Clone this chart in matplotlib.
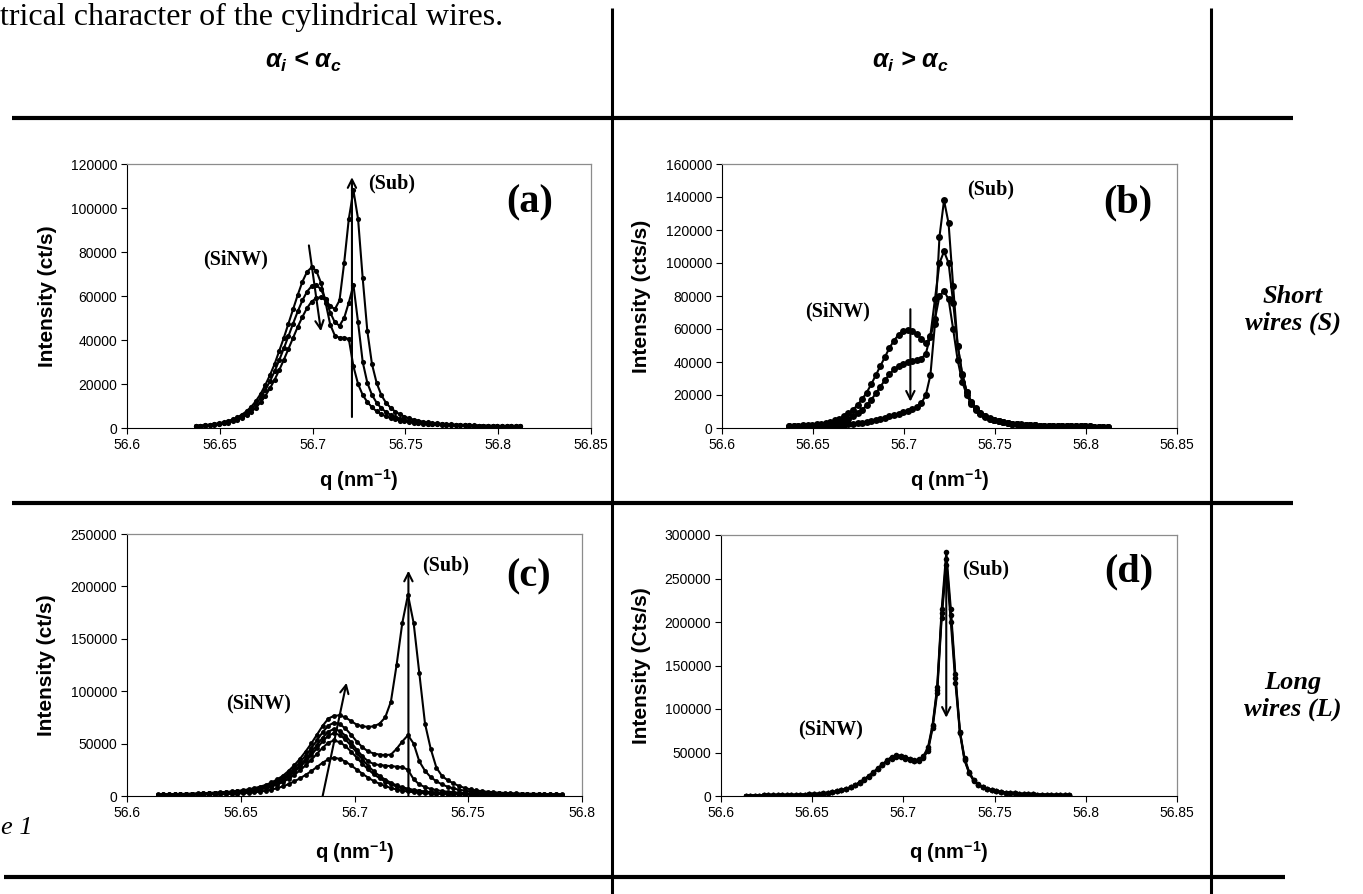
import matplotlib
matplotlib.use("Agg")
import matplotlib.pyplot as plt
from matplotlib.lines import Line2D
import numpy as np

plt.rcParams["font.family"] = ["Liberation Sans", "DejaVu Sans"]
plt.rcParams["mathtext.fontset"] = "custom"
plt.rcParams["mathtext.rm"] = "Liberation Sans:bold"
plt.rcParams["mathtext.it"] = "Liberation Sans:bold:italic"
plt.rcParams["mathtext.bf"] = "Liberation Sans:bold"

# ---------------- data (intensity in thousands of counts/s) ----------------
q_ab = [56.637, 56.6395, 56.642, 56.6445, 56.647, 56.6495, 56.652, 56.6545, 56.657, 56.6595,
        56.662, 56.6645, 56.667, 56.6695, 56.672, 56.6745, 56.677, 56.6795, 56.682, 56.6845,
        56.687, 56.6895, 56.692, 56.6945, 56.697, 56.6995, 56.702, 56.7045, 56.707, 56.7095,
        56.712, 56.7145, 56.717, 56.7195, 56.722, 56.7245, 56.727, 56.7295, 56.732, 56.7345,
        56.737, 56.7395, 56.742, 56.7445, 56.747, 56.7495, 56.752, 56.7545, 56.757, 56.7595,
        56.762, 56.7645, 56.767, 56.7695, 56.772, 56.7745, 56.777, 56.7795, 56.782, 56.7845,
        56.787, 56.7895, 56.792, 56.7945, 56.797, 56.7995, 56.802, 56.8045, 56.807, 56.8095,
        56.812]

q_cd = [56.6135, 56.616, 56.6185, 56.621, 56.6235, 56.626, 56.6285, 56.631, 56.6335, 56.636,
        56.6385, 56.641, 56.6435, 56.646, 56.6485, 56.651, 56.6535, 56.656, 56.6585, 56.661,
        56.6635, 56.666, 56.6685, 56.671, 56.6735, 56.676, 56.6785, 56.681, 56.6835, 56.686,
        56.6885, 56.691, 56.6935, 56.696, 56.6985, 56.701, 56.7035, 56.706, 56.7085, 56.711,
        56.7135, 56.716, 56.7185, 56.721, 56.7235, 56.726, 56.7285, 56.731, 56.7335, 56.736,
        56.7385, 56.741, 56.7435, 56.746, 56.7485, 56.751, 56.7535, 56.756, 56.7585, 56.761,
        56.7635, 56.766, 56.7685, 56.771, 56.7735, 56.776, 56.7785, 56.781, 56.7835, 56.786,
        56.7885, 56.791]

# (a) short wires, alpha_i < alpha_c
a1 = [1.0, 1.1, 1.3, 1.5, 1.8, 2.2, 2.6, 3.2, 3.9, 4.9,
      6.1, 7.7, 9.7, 12.3, 15.5, 19.5, 24.0, 29.0, 35.0, 41.0,
      47.5, 54.0, 60.5, 66.5, 71.0, 73.0, 71.5, 66.0, 57.0, 47.0,
      42.0, 41.0, 41.0, 40.5, 28.0, 20.0, 15.0, 11.8, 9.4, 7.6,
      6.3, 5.3, 4.5, 3.9, 3.4, 3.0, 2.7, 2.4, 2.2, 2.0,
      1.8, 1.7, 1.6, 1.5, 1.4, 1.3, 1.25, 1.2, 1.15, 1.1,
      1.05, 1.0, 0.95, 0.9, 0.9, 0.85, 0.85, 0.8, 0.8, 0.8,
      0.75]
a2 = [0.9, 1.0, 1.15, 1.35, 1.6, 1.95, 2.3, 2.8, 3.5, 4.3,
      5.4, 6.8, 8.6, 10.9, 13.7, 17.2, 21.2, 25.7, 30.8, 36.2,
      41.8, 47.5, 53.0, 58.0, 62.0, 64.5, 65.0, 63.0, 58.5, 52.5,
      48.0, 46.5, 50.0, 57.0, 65.0, 48.0, 30.0, 20.5, 15.0, 11.5,
      9.0, 7.3, 6.0, 5.0, 4.3, 3.7, 3.2, 2.8, 2.5, 2.2,
      2.0, 1.85, 1.7, 1.6, 1.5, 1.4, 1.3, 1.25, 1.2, 1.15,
      1.1, 1.05, 1.0, 0.95, 0.9, 0.9, 0.85, 0.85, 0.8, 0.8,
      0.8]
a3 = [0.85, 0.95, 1.1, 1.25, 1.45, 1.75, 2.05, 2.5, 3.05, 3.8,
      4.7, 5.9, 7.4, 9.3, 11.7, 14.6, 18.0, 21.9, 26.3, 31.0,
      36.0, 41.0, 46.0, 50.5, 54.5, 57.5, 59.0, 59.5, 58.0, 55.5,
      54.0, 58.0, 75.0, 95.0, 108.0, 95.0, 68.0, 44.0, 29.0, 20.5,
      15.0, 11.5, 9.2, 7.5, 6.2, 5.2, 4.4, 3.8, 3.3, 2.9,
      2.6, 2.3, 2.1, 1.9, 1.75, 1.6, 1.5, 1.4, 1.3, 1.2,
      1.15, 1.1, 1.05, 1.0, 0.95, 0.9, 0.9, 0.85, 0.85, 0.8,
      0.8]

# (b) short wires, alpha_i > alpha_c
b1 = [1.2, 1.3, 1.4, 1.6, 1.8, 2.0, 2.3, 2.7, 3.2, 3.8,
      4.6, 5.6, 7.0, 8.8, 11.0, 14.0, 17.5, 21.5, 26.5, 32.0,
      37.5, 43.0, 48.5, 53.0, 56.5, 58.5, 59.5, 59.0, 57.0, 54.0,
      51.5, 55.0, 66.0, 80.0, 83.0, 78.0, 60.0, 41.0, 28.0, 20.0,
      14.5, 11.0, 8.6, 6.9, 5.6, 4.7, 4.0, 3.4, 3.0, 2.6,
      2.3, 2.1, 1.9, 1.7, 1.6, 1.5, 1.4, 1.3, 1.25, 1.2,
      1.15, 1.1, 1.05, 1.0, 1.0, 0.95, 0.95, 0.9, 0.9, 0.9,
      0.85]
b2 = [1.0, 1.05, 1.1, 1.2, 1.3, 1.45, 1.6, 1.8, 2.1, 2.5,
      3.0, 3.6, 4.5, 5.6, 7.0, 8.8, 11.0, 13.8, 17.0, 21.0,
      25.0, 29.0, 32.5, 35.5, 37.5, 39.0, 40.0, 40.5, 41.0, 42.0,
      45.0, 56.0, 78.0, 100.0, 107.0, 100.0, 76.0, 50.0, 33.0, 22.0,
      16.0, 12.0, 9.3, 7.4, 6.0, 5.0, 4.2, 3.6, 3.1, 2.7,
      2.4, 2.15, 1.95, 1.75, 1.6, 1.5, 1.4, 1.3, 1.25, 1.2,
      1.15, 1.1, 1.05, 1.0, 1.0, 0.95, 0.95, 0.9, 0.9, 0.9,
      0.85]
b3 = [0.6, 0.65, 0.7, 0.75, 0.8, 0.9, 1.0, 1.1, 1.2, 1.35,
      1.5, 1.7, 1.95, 2.2, 2.5, 2.9, 3.3, 3.8, 4.3, 4.9,
      5.5, 6.2, 7.0, 7.8, 8.6, 9.5, 10.3, 11.3, 12.6, 15.0,
      20.0, 32.0, 63.0, 116.0, 138.0, 124.0, 86.0, 50.0, 32.0, 22.0,
      15.5, 11.5, 8.8, 7.0, 5.7, 4.7, 4.0, 3.4, 3.0, 2.6,
      2.3, 2.05, 1.85, 1.7, 1.55, 1.45, 1.35, 1.25, 1.2, 1.15,
      1.1, 1.05, 1.0, 1.0, 0.95, 0.95, 0.9, 0.9, 0.9, 0.85,
      0.85]

# (c) long wires, alpha_i < alpha_c
c1 = [0.7, 0.8, 0.8, 0.9, 0.9, 1.0, 1.1, 1.1, 1.2, 1.4,
      1.5, 1.6, 1.8, 2.0, 2.3, 2.6, 3.0, 3.5, 4.2, 5.0,
      6.1, 7.5, 9.1, 11.3, 13.9, 16.8, 20.1, 23.7, 27.7, 31.8,
      35.0, 36.5, 35.4, 32.9, 29.2, 25.2, 21.2, 17.5, 14.2, 11.7,
      9.5, 7.7, 6.2, 5.1, 4.3, 3.6, 3.0, 2.6, 2.3, 2.0,
      1.8, 1.6, 1.5, 1.35, 1.25, 1.15, 1.1, 1.0, 1.0, 0.95,
      0.9, 0.9, 0.85, 0.8, 0.8, 0.8, 0.75, 0.75, 0.7, 0.7,
      0.7, 0.65]
c2 = [1.1, 1.1, 1.2, 1.3, 1.3, 1.4, 1.5, 1.6, 1.8, 2.0,
      2.2, 2.4, 2.7, 3.0, 3.3, 3.8, 4.4, 5.1, 6.1, 7.3,
      8.9, 10.9, 13.3, 16.4, 20.1, 24.4, 29.2, 34.5, 40.3, 46.1,
      50.9, 53.0, 51.4, 47.7, 42.4, 36.6, 30.7, 25.4, 20.7, 17.0,
      13.8, 11.1, 9.0, 7.4, 6.2, 5.2, 4.4, 3.8, 3.3, 2.9,
      2.6, 2.3, 2.1, 2.0, 1.8, 1.7, 1.6, 1.5, 1.4, 1.4,
      1.3, 1.3, 1.2, 1.2, 1.2, 1.1, 1.1, 1.1, 1.1, 1.0,
      1.0, 1.0]
c3 = [1.2, 1.3, 1.3, 1.4, 1.5, 1.6, 1.7, 1.9, 2.0, 2.2,
      2.5, 2.7, 3.0, 3.4, 3.8, 4.3, 5.0, 5.8, 6.9, 8.3,
      10.0, 12.3, 15.0, 18.6, 22.8, 27.6, 33.0, 39.0, 45.6, 52.2,
      57.6, 60.0, 58.2, 54.0, 48.0, 41.4, 34.8, 28.8, 23.4, 19.2,
      15.6, 12.6, 10.2, 8.4, 7.0, 5.9, 5.0, 4.3, 3.7, 3.3,
      2.9, 2.6, 2.4, 2.2, 2.0, 1.9, 1.8, 1.7, 1.6, 1.6,
      1.5, 1.4, 1.4, 1.3, 1.3, 1.3, 1.3, 1.2, 1.2, 1.1,
      1.1, 1.1]
c4 = [1.3, 1.3, 1.4, 1.5, 1.6, 1.7, 1.9, 2.0, 2.2, 2.4,
      2.6, 2.9, 3.2, 3.6, 4.0, 4.6, 5.3, 6.2, 7.4, 8.8,
      10.7, 13.1, 16.0, 19.8, 24.3, 29.4, 35.2, 41.6, 48.6, 55.7,
      61.4, 64.0, 62.1, 57.6, 51.2, 44.2, 38.0, 33.0, 30.5, 29.5,
      29.0, 28.5, 28.0, 27.5, 25.0, 16.0, 11.0, 8.5, 6.8, 5.6,
      4.7, 4.0, 3.5, 3.1, 2.8, 2.5, 2.3, 2.1, 2.0, 1.9,
      1.8, 1.7, 1.6, 1.5, 1.5, 1.4, 1.4, 1.3, 1.3, 1.2,
      1.2, 1.2]
c5 = [1.4, 1.5, 1.5, 1.7, 1.8, 1.9, 2.0, 2.2, 2.4, 2.6,
      2.9, 3.2, 3.5, 3.9, 4.4, 5.0, 5.8, 6.8, 8.1, 9.7,
      11.7, 14.4, 17.5, 21.7, 26.6, 32.2, 38.5, 45.5, 53.2, 60.9,
      67.2, 70.0, 68.5, 64.5, 58.5, 52.0, 46.5, 42.5, 40.5, 39.5,
      39.0, 39.5, 45.0, 52.0, 58.0, 50.0, 33.0, 24.0, 18.0, 14.0,
      11.0, 8.8, 7.2, 6.0, 5.1, 4.4, 3.8, 3.4, 3.0, 2.7,
      2.5, 2.3, 2.1, 2.0, 1.9, 1.8, 1.7, 1.6, 1.55, 1.5,
      1.45, 1.4]
c6 = [1.5, 1.6, 1.7, 1.9, 1.9, 2.1, 2.2, 2.4, 2.6, 2.9,
      3.2, 3.5, 3.9, 4.3, 4.9, 5.5, 6.4, 7.5, 8.9, 10.6,
      12.9, 15.8, 19.3, 23.9, 29.3, 35.4, 42.4, 50.1, 58.5, 67.0,
      73.9, 76.5, 77.0, 75.0, 71.5, 68.0, 66.5, 66.0, 66.5, 69.0,
      75.0, 90.0, 125.0, 165.0, 192.0, 165.0, 117.0, 69.0, 45.0, 27.0,
      19.0, 15.0, 12.0, 9.5, 7.6, 6.3, 5.3, 4.6, 4.0, 3.6,
      3.2, 2.9, 2.7, 2.5, 2.3, 2.2, 2.1, 2.0, 1.9, 1.8,
      1.75, 1.7]

# (d) long wires, alpha_i > alpha_c
d1 = [0.4, 0.45, 0.5, 0.55, 0.6, 0.65, 0.7, 0.8, 0.9, 1.0,
      1.1, 1.25, 1.4, 1.6, 1.85, 2.1, 2.5, 3.0, 3.6, 4.4,
      5.4, 6.7, 8.3, 10.3, 12.8, 15.8, 19.3, 23.2, 27.5, 32.0,
      36.5, 41.0, 45.0, 47.0, 46.5, 45.0, 43.0, 41.5, 42.0, 46.0,
      56.0, 82.0, 125.0, 215.0, 280.0, 215.0, 140.0, 74.0, 44.0, 28.0,
      18.5, 13.5, 10.5, 8.3, 6.8, 5.6, 4.7, 4.0, 3.4, 3.0,
      2.6, 2.3, 2.05, 1.85, 1.7, 1.55, 1.45, 1.35, 1.25, 1.2,
      1.15, 1.1]
d2 = [0.4, 0.45, 0.5, 0.55, 0.6, 0.65, 0.7, 0.8, 0.9, 1.0,
      1.1, 1.2, 1.4, 1.6, 1.8, 2.1, 2.5, 2.9, 3.5, 4.3,
      5.3, 6.5, 8.1, 10.1, 12.5, 15.5, 19.0, 22.8, 27.0, 31.4,
      35.8, 40.2, 44.0, 46.0, 45.5, 44.0, 42.2, 40.8, 41.2, 45.0,
      54.0, 80.0, 122.0, 210.0, 272.0, 208.0, 136.0, 74.0, 42.0, 27.0,
      18.0, 13.2, 10.2, 8.1, 6.6, 5.4, 4.6, 3.9, 3.3, 2.9,
      2.5, 2.2, 2.0, 1.8, 1.65, 1.5, 1.4, 1.3, 1.2, 1.15,
      1.1, 1.05]
d3 = [0.4, 0.45, 0.5, 0.55, 0.6, 0.65, 0.7, 0.75, 0.85, 0.95,
      1.05, 1.2, 1.35, 1.55, 1.75, 2.0, 2.4, 2.8, 3.4, 4.2,
      5.2, 6.4, 7.9, 9.9, 12.3, 15.2, 18.6, 22.4, 26.5, 30.8,
      35.1, 39.4, 43.0, 45.0, 44.5, 43.0, 41.5, 40.0, 40.5, 44.0,
      52.0, 78.0, 118.0, 205.0, 265.0, 200.0, 130.0, 72.0, 41.0, 26.5,
      17.5, 13.0, 10.0, 8.0, 6.5, 5.3, 4.5, 3.8, 3.3, 2.9,
      2.5, 2.2, 2.0, 1.8, 1.6, 1.5, 1.4, 1.3, 1.2, 1.15,
      1.1, 1.05]

# arrows: (q_tail, I_tail, q_tip, I_tip) in k counts
arrows_a = [(56.698, 83, 56.7045, 44), (56.7212, 5, 56.7212, 114)]
arrows_b = [(56.7035, 72, 56.7035, 16)]
arrows_c = [(56.686, 0, 56.6965, 108), (56.7237, 0, 56.7237, 215)]
arrows_d = [(56.7235, 280, 56.7235, 90)]

xticks_ab = [56.6, 56.65, 56.7, 56.75, 56.8, 56.85]
xticks_c = [56.6, 56.65, 56.7, 56.75, 56.8]

W, H = 1363, 894
fig = plt.figure(figsize=(W / 100, H / 100), dpi=100)


def fx(px):
    return px / W


def fy(py):
    return 1 - py / H


def table_line(x0, y0, x1, y1, lw):
    fig.add_artist(Line2D([fx(x0), fx(x1)], [fy(y0), fy(y1)], transform=fig.transFigure,
                          color="black", lw=lw, solid_capstyle="butt"))


def panel(box, q, curves, ymax, ystep, xticks, ylabel, ms, tag, tag_xy, sub_xy, sinw_xy,
          arrows, ylab_x, xlab_y):
    left, right, top, bottom = box
    ax = fig.add_axes([fx(left), fy(bottom), (right - left) / W, (bottom - top) / H])
    for c in curves:
        ax.plot(q, np.array(c) * 1000, color="black", lw=1.5, marker="o", ms=ms,
                mfc="black", mec="black", mew=0)
    ax.set_xlim(xticks[0], xticks[-1])
    ax.set_ylim(0, ymax)
    ax.set_xticks(xticks)
    ax.set_xticklabels([f"{t:g}" for t in xticks])
    yt = list(range(0, ymax + 1, ystep))
    ax.set_yticks(yt)
    ax.set_yticklabels([str(t) for t in yt])
    ax.tick_params(direction="out", length=4, width=0.8, labelsize=10, pad=3, colors="black")
    for s in ["top", "right"]:
        ax.spines[s].set_color("#8c8c8c")
        ax.spines[s].set_linewidth(0.9)
    for s in ["left", "bottom"]:
        ax.spines[s].set_color("black")
        ax.spines[s].set_linewidth(0.8)

    ax.set_ylabel(ylabel, fontsize=15, fontweight="bold")
    ax.yaxis.set_label_coords(ylab_x, 0.5)
    ax.yaxis.label.set_va("center")
    ax.set_xlabel(r"q (nm$^{\mathrm{-1}}$)", fontsize=14.5, fontweight="bold")
    ax.xaxis.set_label_coords(0.5, xlab_y)
    ax.xaxis.label.set_va("center")

    serif = dict(family="Liberation Serif", fontweight="bold", ha="center", va="center",
                 transform=ax.transAxes)
    ax.text(*tag_xy, tag, fontsize=29, **serif)
    ax.text(*sub_xy, "(Sub)", fontsize=14.5, **serif)
    ax.text(*sinw_xy, "(SiNW)", fontsize=14.5, **serif)
    for q0, i0, q1, i1 in arrows:
        ax.annotate("", xy=(q1, i1 * 1000), xytext=(q0, i0 * 1000),
                    arrowprops=dict(arrowstyle="->", color="black", lw=1.5, mutation_scale=15,
                                    shrinkA=0, shrinkB=0),
                    annotation_clip=False)
    return ax


panel((127, 591, 164, 428), q_ab, [a1, a2, a3], 120000, 20000, xticks_ab,
      "Intensity (ct/s)", 3.7, "(a)", (0.868, 0.853), (0.571, 0.925), (0.235, 0.638),
      arrows_a, -0.172, -0.196)
panel((722, 1177, 164, 428), q_ab, [b1, b2, b3], 160000, 20000, xticks_ab,
      "Intensity (cts/s)", 5.0, "(b)", (0.892, 0.853), (0.591, 0.902), (0.255, 0.442),
      arrows_b, -0.177, -0.196)
panel((127, 582, 534, 796), q_cd, [c1, c2, c3, c4, c5, c6], 250000, 50000, xticks_c,
      "Intensity (ct/s)", 3.5, "(c)", (0.883, 0.836), (0.70, 0.878), (0.29, 0.355),
      arrows_c, -0.176, -0.213)
panel((721, 1177, 535, 796), q_cd, [d1, d2, d3], 300000, 50000, xticks_ab,
      "Intensity (Cts/s)", 4.0, "(d)", (0.895, 0.858), (0.581, 0.866), (0.241, 0.253),
      arrows_d, -0.174, -0.213)

# table rules
table_line(12, 118, 1293, 118, 3.0)
table_line(12, 503, 1293, 503, 3.0)
table_line(4, 877, 1285, 877, 3.0)
table_line(612, 8, 612, 894, 2.2)
table_line(1211, 8, 1211, 894, 2.2)

# surrounding text
fig.text(fx(0), fy(17), "trical character of the cylindrical wires.", family="Liberation Serif",
         fontsize=23, ha="left", va="center")
fig.text(fx(303), fy(62), r"$\alpha_i$ < $\alpha_c$", fontsize=18, fontweight="bold",
         style="italic", ha="center", va="center")
fig.text(fx(910), fy(62), r"$\alpha_i$ > $\alpha_c$", fontsize=18, fontweight="bold",
         style="italic", ha="center", va="center")
fig.text(fx(1293), fy(310), "Short\nwires (S)", family="Liberation Serif", fontsize=19,
         fontweight="bold", style="italic", ha="center", va="center", linespacing=1.15)
fig.text(fx(1293), fy(696), "Long\nwires (L)", family="Liberation Serif", fontsize=19,
         fontweight="bold", style="italic", ha="center", va="center", linespacing=1.15)
fig.text(fx(1), fy(828), "e 1", family="Liberation Serif", fontsize=19, style="italic",
         ha="left", va="center")

fig.savefig("out.png", dpi=100)
